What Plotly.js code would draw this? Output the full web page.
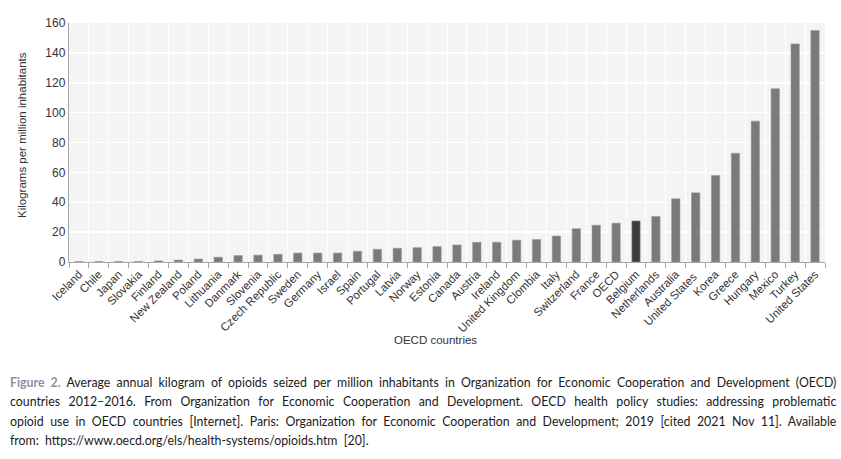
<!DOCTYPE html>
<html>
<head>
<meta charset="utf-8">
<script src="https://cdn.plot.ly/plotly-3.0.1.min.js"></script>
<style>
  html, body { margin: 0; padding: 0; background: #fff; }
  #wrap { position: relative; width: 841px; height: 459px; overflow: hidden; }
  #chart { position: absolute; left: 0; top: 0; width: 841px; height: 459px; }
  #caption {
    position: absolute; left: 10px; top: 372px; width: 939px;
    transform: scaleX(0.88); transform-origin: 0 0;
    font-family: Lato, "Open Sans", sans-serif;
    font-size: 14px; line-height: 19.3px; color: #1a1a1a;
  }
  #caption .ln { white-space: nowrap; text-align: justify; text-align-last: justify; }
  #caption .ln.last { text-align-last: left; }
  #caption .fig { color: #8a91a6; font-weight: 700; }
</style>
</head>
<body>
<div id="wrap">
  <div id="chart"></div>
  <div id="caption">
    <div class="ln"><span class="fig">Figure 2.</span> Average annual kilogram of opioids seized per million inhabitants in Organization for Economic Cooperation and Development (OECD)</div>
    <div class="ln">countries 2012&#8211;2016. From Organization for Economic Cooperation and Development. OECD health policy studies: addressing problematic</div>
    <div class="ln">opioid use in OECD countries [Internet]. Paris: Organization for Economic Cooperation and Development; 2019 [cited 2021 Nov 11]. Available</div>
    <div class="ln last">from:&nbsp; https://www.oecd.org/els/health-systems/opioids.htm&nbsp; [20].</div>
  </div>
</div>
<script>
const countries = ["Iceland","Chile","Japan","Slovakia","Finland","New Zealand","Poland","Lithuania","Danmark","Slovenia","Czech Republic","Sweden","Germany","Israel","Spain","Portugal","Latvia","Norway","Estonia","Canada","Austria","Ireland","United Kingdom","Clombia","Italy","Switzerland","France","OECD","Belgium","Netherlands","Australia","United States ","Korea","Greece","Hungary","Mexico","Turkey","United States"];
const kgPerMillion = [0.3,0.3,0.3,0.3,0.7,1.3,2.0,3.2,4.3,4.6,5.1,6.0,6.0,6.0,7.2,8.5,9.2,9.6,10.3,11.4,13.2,13.2,14.6,15.0,17.4,22.3,24.6,26.0,27.5,30.5,42.3,46.3,57.9,72.8,94.3,116.0,146.0,155.0];
const highlighted = "Belgium";
const yTicks = [0,20,40,60,80,100,120,140,160];
const xTitle = "OECD countries";
const yTitle = "Kilograms per million inhabitants";

const barColors = countries.map(c => c === highlighted ? "#3b3b3b" : "#7a7a7a");
const FONT = '"Liberation Sans", Arial, sans-serif';

Plotly.newPlot("chart", [{
  type: "bar",
  x: countries,
  y: kgPerMillion,
  marker: { color: barColors, line: { color: "#9a9a9a", width: 0.6 } },
  width: 0.42,
  hoverinfo: "x+y"
}], {
  width: 841, height: 459,
  margin: { l: 69, r: 16, t: 23, b: 197 },
  paper_bgcolor: "#ffffff",
  plot_bgcolor: "#f4f4f4",
  showlegend: false,
  font: { family: FONT, size: 11.5, color: "#333" },
  xaxis: {
    type: "category",
    tickangle: -45,
    tickson: "boundaries",
    ticks: "outside", ticklen: 5, tickcolor: "#a8a8a8", tickwidth: 1,
    showgrid: true, gridcolor: "#ffffff", gridwidth: 1,
    showline: true, linecolor: "#a8a8a8", linewidth: 1.2,
    tickfont: { family: FONT, size: 11.5, color: "#333" },
    fixedrange: true
  },
  yaxis: {
    range: [0, 160],
    tickvals: yTicks,
    showgrid: true, gridcolor: "#ffffff", gridwidth: 1.5,
    zeroline: false,
    showline: true, linecolor: "#a8a8a8", linewidth: 1.2,
    ticks: "",
    tickfont: { family: FONT, size: 12, color: "#333" },
    fixedrange: true
  },
  annotations: [
    { text: xTitle, xref: "paper", yref: "paper", x: (435 - 69) / 756, y: (262 - 340) / 239,
      xanchor: "center", yanchor: "middle", showarrow: false, font: { family: FONT, size: 11.5, color: "#333" } },
    { text: yTitle, xref: "paper", yref: "paper", x: (22 - 69) / 756, y: (262 - 135) / 239, textangle: -90,
      xanchor: "center", yanchor: "middle", showarrow: false, font: { family: FONT, size: 11.5, color: "#333" } }
  ],
  bargap: 0.58
}, { displayModeBar: false, staticPlot: true });
</script>
</body>
</html>
